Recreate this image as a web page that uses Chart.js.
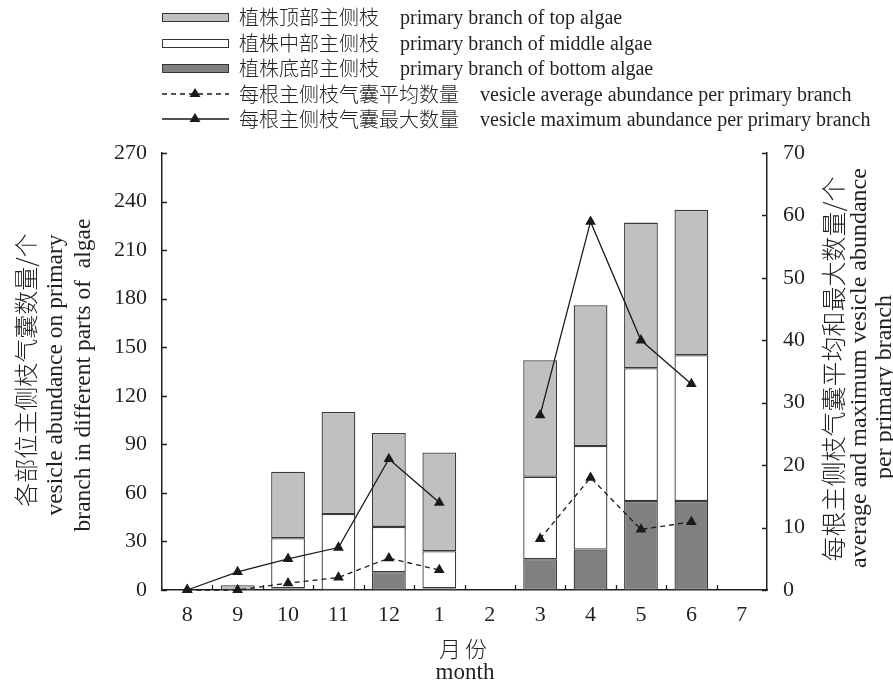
<!DOCTYPE html>
<html>
<head>
<meta charset="utf-8">
<script src="https://cdn.jsdelivr.net/npm/chart.js@4/dist/chart.umd.min.js"></script>
<style>
html,body{margin:0;padding:0;background:#fff;}
#wrap{position:relative;width:893px;height:682px;overflow:hidden;}
#c{position:absolute;left:0;top:0;}
.t{position:absolute;white-space:nowrap;color:#231f20;font-family:'Liberation Serif','Noto Sans CJK SC',serif;}
.lg{font-size:20px;line-height:20px;}
.cn{font-family:'Noto Sans CJK SC','Liberation Serif',sans-serif;font-weight:300;}
.rot{transform:translate(-50%,-50%) rotate(-90deg);}
.ctr{transform:translate(-50%,-50%);}
.sw{position:absolute;box-sizing:border-box;border:1.5px solid #333;}
</style>
</head>
<body>
<div id="wrap">
<canvas id="c" width="893" height="682"></canvas>

<!-- legend -->
<div class="sw" style="left:162px;top:13px;width:67px;height:9px;background:#c0c0c2;"></div>
<div class="t lg cn" style="left:239px;top:7px;">植株顶部主侧枝</div>
<div class="t lg" style="left:400px;top:7px;">primary branch of top algae</div>

<div class="sw" style="left:162px;top:39px;width:67px;height:9px;background:#fff;"></div>
<div class="t lg cn" style="left:239px;top:33px;">植株中部主侧枝</div>
<div class="t lg" style="left:400px;top:33px;">primary branch of middle algae</div>

<div class="sw" style="left:162px;top:64px;width:67px;height:9px;background:#808082;"></div>
<div class="t lg cn" style="left:239px;top:58px;">植株底部主侧枝</div>
<div class="t lg" style="left:400px;top:58px;">primary branch of bottom algae</div>

<svg style="position:absolute;left:162px;top:86px;" width="68" height="16">
<line x1="0" y1="8" x2="67" y2="8" stroke="#1a1a1a" stroke-width="1.3" stroke-dasharray="5,4"/>
<polygon points="33,2 38.5,11 27.5,11" fill="#1a1a1a"/>
</svg>
<div class="t lg cn" style="left:239px;top:84px;">每根主侧枝气囊平均数量</div>
<div class="t lg" style="left:480px;top:84px;">vesicle average abundance per primary branch</div>

<svg style="position:absolute;left:162px;top:111px;" width="68" height="16">
<line x1="0" y1="8" x2="67" y2="8" stroke="#1a1a1a" stroke-width="1.3"/>
<polygon points="33,2 38.5,11 27.5,11" fill="#1a1a1a"/>
</svg>
<div class="t lg cn" style="left:239px;top:109px;">每根主侧枝气囊最大数量</div>
<div class="t lg" style="left:480px;top:109px;">vesicle maximum abundance per primary branch</div>

<!-- left axis title -->
<div class="t rot cn" style="left:24px;top:370px;font-size:24px;">各部位主侧枝气囊数量/个</div>
<div class="t rot" style="left:54px;top:375px;font-size:23.5px;">vesicle abundance on primary</div>
<div class="t rot" style="left:82px;top:375px;font-size:23.5px;">branch in different parts of&nbsp; algae</div>

<!-- right axis title -->
<div class="t rot cn" style="left:832px;top:369px;font-size:25px;">每根主侧枝气囊平均和最大数量/个</div>
<div class="t rot" style="left:858px;top:368px;font-size:24px;">average and maximum vesicle abundance</div>
<div class="t rot" style="left:883px;top:387px;font-size:24px;">per primary branch</div>

<!-- x axis title -->
<div class="t ctr cn" style="left:465px;top:647px;font-size:22px;letter-spacing:4px;">月份</div>
<div class="t ctr" style="left:465px;top:672px;font-size:23px;">month</div>
</div>

<script>
// ---- data ----
const months = ['8','9','10','11','12','1','2','3','4','5','6','7'];
const bottomBranch = [null, null, 1, null, 11, 1, null, 19, 25, 55, 55, null];
const middleBranch = [null, null, 31, 47, 28, 23, null, 51, 64, 82, 90, null];
const topBranch    = [null, 3, 41, 63, 58, 61, null, 72, 87, 90, 90, null];
const avgVesicle   = [0, 0, 1.1, 2, 5.1, 3.2, null, 8.2, 18, 9.7, 10.9, null];
const maxVesicle   = [0, 2.9, 5, 6.8, 21, 14, null, 28, 59, 40, 33, null];
const leftTicks  = [0, 30, 60, 90, 120, 150, 180, 210, 240, 270];
const rightTicks = [0, 10, 20, 30, 40, 50, 60, 70];

const INK = '#231f20';
const tickFont = {family: "'Liberation Serif', serif", size: 22};

const inwardTicks = {
  id: 'inwardTicks',
  afterDraw(chart) {
    const ctx = chart.ctx, ca = chart.chartArea;
    const y = chart.scales.y, y2 = chart.scales.y2, x = chart.scales.x;
    const L = 5;
    ctx.save();
    ctx.strokeStyle = INK;
    ctx.lineWidth = 1.3;
    ctx.beginPath();
    leftTicks.forEach(v => {
      const p = Math.round(y.getPixelForValue(v)) + 0.5;
      ctx.moveTo(ca.left, p); ctx.lineTo(ca.left + L, p);
    });
    rightTicks.forEach(v => {
      const p = Math.round(y2.getPixelForValue(v)) + 0.5;
      ctx.moveTo(ca.right, p); ctx.lineTo(ca.right - L, p);
    });
    for (let i = 1; i < months.length; i++) {
      const p = Math.round((x.getPixelForValue(i - 1) + x.getPixelForValue(i)) / 2) + 0.5;
      ctx.moveTo(p, ca.bottom); ctx.lineTo(p, ca.bottom - L);
    }
    ctx.stroke();
    ctx.restore();
  }
};

const barCommon = {
  borderColor: '#3a3a3a',
  borderWidth: 1.3,
  borderSkipped: false,
  barPercentage: 0.67,
  categoryPercentage: 1,
  yAxisID: 'y',
  order: 1
};
const lineCommon = {
  type: 'line',
  yAxisID: 'y2',
  borderColor: '#1a1a1a',
  borderWidth: 1.3,
  pointStyle: 'triangle',
  pointRadius: 6.2,
  pointBackgroundColor: '#1a1a1a',
  pointBorderColor: '#1a1a1a',
  pointBorderWidth: 0,
  spanGaps: false,
  tension: 0,
  fill: false,
  clip: false,
  order: 0
};

new Chart(document.getElementById('c'), {
  type: 'bar',
  data: {
    labels: months,
    datasets: [
      Object.assign({label: '植株底部主侧枝', data: bottomBranch, backgroundColor: '#808082'}, barCommon),
      Object.assign({label: '植株中部主侧枝', data: middleBranch, backgroundColor: '#ffffff'}, barCommon),
      Object.assign({label: '植株顶部主侧枝', data: topBranch, backgroundColor: '#c0c0c2'}, barCommon),
      Object.assign({label: '每根主侧枝气囊平均数量', data: avgVesicle, borderDash: [5, 4]}, lineCommon),
      Object.assign({label: '每根主侧枝气囊最大数量', data: maxVesicle}, lineCommon)
    ]
  },
  options: {
    responsive: false,
    animation: false,
    devicePixelRatio: 1,
    layout: {padding: {top: 153, left: 0, right: 0, bottom: 0}},
    plugins: {legend: {display: false}, tooltip: {enabled: false}, title: {display: false}},
    scales: {
      x: {
        stacked: true,
        offset: true,
        grid: {display: false, drawTicks: false, offset: true},
        border: {display: true, color: INK, width: 1.5},
        ticks: {font: tickFont, color: INK, padding: 12, maxRotation: 0, autoSkip: false},
        afterFit(s) { s.height = 92; }
      },
      y: {
        position: 'left',
        stacked: true,
        min: leftTicks[0],
        max: leftTicks[leftTicks.length - 1],
        afterBuildTicks(s) { s.ticks = leftTicks.map(v => ({value: v})); },
        grid: {display: false, drawTicks: false},
        border: {display: true, color: INK, width: 1.5},
        ticks: {font: tickFont, color: INK, padding: 15},
        afterFit(s) { s.width = 162; }
      },
      y2: {
        position: 'right',
        stacked: false,
        min: rightTicks[0],
        max: rightTicks[rightTicks.length - 1],
        afterBuildTicks(s) { s.ticks = rightTicks.map(v => ({value: v})); },
        grid: {display: false, drawTicks: false},
        border: {display: true, color: INK, width: 1.5},
        ticks: {font: tickFont, color: INK, padding: 16},
        afterFit(s) { s.width = 126; }
      }
    }
  },
  plugins: [inwardTicks]
});
</script>
</body>
</html>
